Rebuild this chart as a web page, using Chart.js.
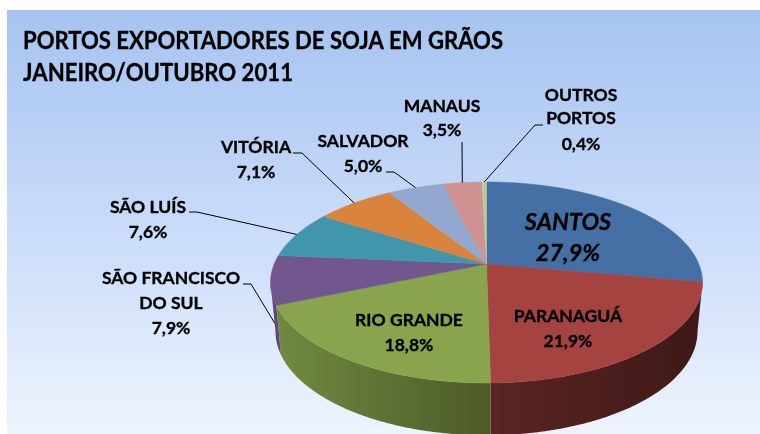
<!DOCTYPE html>
<html>
<head>
<meta charset="utf-8">
<style>
  html, body { margin: 0; padding: 0; background: #fff; }
  canvas { display: block; }
</style>
<script src="https://cdn.jsdelivr.net/npm/chart.js@4"></script>
</head>
<body>
<canvas id="portos" width="760" height="434"></canvas>
<script>
const categories = ["SANTOS", "PARANAGUÁ", "RIO GRANDE", "SÃO FRANCISCO DO SUL", "SÃO LUÍS", "VITÓRIA", "SALVADOR", "MANAUS", "OUTROS PORTOS"];
const shares = [27.9, 21.9, 18.8, 7.9, 7.6, 7.1, 5.0, 3.5, 0.4];
const titleLines = ["PORTOS EXPORTADORES DE SOJA EM GRÃOS", "JANEIRO/OUTUBRO 2011"];
const sliceColors = ["#4470a5", "#a54341", "#89a44d", "#71578e", "#4196ae", "#da833d", "#93a8ce", "#d09291", "#b8cc95"];
const sideLeft = ["#2c4a6e", "#5a2523", "#718a40", "#5f4878", "#2f6d7f", "#9c5d2b", "#6b7a96", "#967069", "#84936b"];
const sideRight = ["#2c4a6e", "#3e1917", "#4d5a29", "#5f4878", "#2f6d7f", "#9c5d2b", "#6b7a96", "#967069", "#84936b"];

// perspective of the disc, fitted on the picture
const view = { cx: 486.5, cy: 264, a: 212.3, b: 97.1, k: 0.184, depth: 48, shrink: 0.977, bottomB: 100.6 };

function project(angle, level) {
  const u = Math.cos(angle);
  const v = Math.sin(angle);
  const w = 1 - view.k * v;
  if (level) {
    return { x: view.cx + view.shrink * view.a * u / w, y: view.cy + view.depth + view.bottomB * v / w };
  }
  return { x: view.cx + view.a * u / w, y: view.cy + view.b * v / w };
}

function rimPoints(start, end, level) {
  const n = Math.max(2, Math.ceil((end - start) / 0.01));
  const pts = [];
  for (let i = 0; i <= n; i++) {
    pts.push(project(start + (end - start) * i / n, level));
  }
  return pts;
}

// label block: centre x, y of each line, font size, text lines, where the leader leaves it
const labelLayout = [
  { x: 568, ys: [222, 253], size: 23.5, italic: true, lines: ["SANTOS", "27,9%"] },
  { x: 568, ys: [316, 341], size: 17.5, lines: ["PARANAGUÁ", "21,9%"] },
  { x: 409, ys: [320, 345], size: 17.5, lines: ["RIO GRANDE", "18,8%"] },
  { x: 171, ys: [278, 303, 328], size: 17.5, lines: ["SÃO FRANCISCO", "DO SUL", "7,9%"], leader: [[243, 284], [251, 284]], onSide: true },
  { x: 148, ys: [207, 232], size: 17.5, lines: ["SÃO LUÍS", "7,6%"], leader: [[189, 212], [197, 212]] },
  { x: 256, ys: [147, 172], size: 17.5, lines: ["VITÓRIA", "7,1%"], leader: [[293, 153], [302, 153]] },
  { x: 363, ys: [141, 166], size: 17.5, lines: ["SALVADOR", "5,0%"], leader: [[386, 172], [394, 172]] },
  { x: 442, ys: [106, 130], size: 17.5, lines: ["MANAUS", "3,5%"], leader: [[462, 142]] },
  { x: 581, ys: [95, 118, 144], size: 17.5, lines: ["OUTROS", "PORTOS", "0,4%"], leader: [[543, 125], [535, 125]] }
];

// where a leader touches its slice: middle of the rim, or of the visible side wall
function leaderEnd(arc, onSide) {
  if (!onSide) return project((arc.startAngle + arc.endAngle) / 2, 0);
  const mid = (arc.startAngle + Math.PI - Math.asin(view.k)) / 2;
  const a = project(mid, 0);
  const b = project(mid, 1);
  return { x: a.x + (b.x - a.x) * 0.6, y: a.y + (b.y - a.y) * 0.6 };
}

const pie3d = {
  id: "pie3d",
  beforeDraw(chart) {
    const ctx = chart.ctx;
    const grad = ctx.createLinearGradient(0, 10, 0, 434);
    grad.addColorStop(0, "#a6c3f0");
    grad.addColorStop(0.5, "#c8dbf9");
    grad.addColorStop(1, "#eef4fe");
    ctx.fillStyle = "#ffffff";
    ctx.fillRect(0, 0, 760, 434);
    ctx.fillStyle = grad;
    ctx.fillRect(7, 10, 753, 424);
  },
  beforeDatasetDraw(chart, args) {
    const ctx = chart.ctx;
    const arcs = chart.getDatasetMeta(args.index).data;
    const lo = Math.asin(view.k);
    const hi = Math.PI - lo;

    // sides first, only the front of the disc shows
    arcs.forEach((arc, i) => {
      const from = Math.max(arc.startAngle, lo);
      const to = Math.min(arc.endAngle, hi);
      if (to <= from) return;
      const top = rimPoints(from, to, 0);
      const bottom = rimPoints(from, to, 1).reverse();
      const xs = top.map(p => p.x);
      const grad = ctx.createLinearGradient(Math.min(...xs), 0, Math.max(...xs), 0);
      grad.addColorStop(0, sideLeft[i]);
      grad.addColorStop(1, sideRight[i]);
      ctx.beginPath();
      top.concat(bottom).forEach((p, n) => n ? ctx.lineTo(p.x, p.y) : ctx.moveTo(p.x, p.y));
      ctx.closePath();
      ctx.fillStyle = grad;
      ctx.fill();
    });

    // top faces
    arcs.forEach(arc => {
      ctx.beginPath();
      ctx.moveTo(view.cx, view.cy);
      rimPoints(arc.startAngle, arc.endAngle, 0).forEach(p => ctx.lineTo(p.x, p.y));
      ctx.closePath();
      ctx.fillStyle = arc.options.backgroundColor;
      ctx.strokeStyle = arc.options.backgroundColor;
      ctx.lineWidth = 0.5;
      ctx.fill();
      ctx.stroke();
    });
    return false;
  },
  afterDatasetsDraw(chart) {
    const ctx = chart.ctx;
    const arcs = chart.getDatasetMeta(0).data;

    ctx.strokeStyle = "#000000";
    ctx.lineWidth = 1;
    labelLayout.forEach((label, i) => {
      if (!label.leader) return;
      const end = leaderEnd(arcs[i], label.onSide);
      ctx.beginPath();
      label.leader.forEach((p, n) => n ? ctx.lineTo(p[0], p[1]) : ctx.moveTo(p[0], p[1]));
      ctx.lineTo(end.x, end.y);
      ctx.stroke();
    });

    ctx.fillStyle = "#000000";
    ctx.strokeStyle = "#000000";
    ctx.lineWidth = 0.35;
    ctx.textAlign = "center";
    ctx.textBaseline = "middle";
    labelLayout.forEach(label => {
      ctx.font = (label.italic ? "italic " : "") + "bold " + label.size + "px Lato";
      label.lines.forEach((line, n) => {
        ctx.fillText(line, label.x, label.ys[n]);
        ctx.strokeText(line, label.x, label.ys[n]);
      });
    });

    ctx.textAlign = "left";
    ctx.font = "bold 24px Lato";
    ctx.fillText(titleLines[0], 23, 41, 480);
    ctx.strokeText(titleLines[0], 23, 41, 480);
    ctx.fillText(titleLines[1], 23, 73, 270);
    ctx.strokeText(titleLines[1], 23, 73, 270);
  }
};

new Chart(document.getElementById("portos"), {
  type: "pie",
  data: {
    labels: categories,
    datasets: [{
      data: shares,
      backgroundColor: sliceColors,
      borderWidth: 0
    }]
  },
  options: {
    responsive: false,
    animation: false,
    plugins: {
      legend: { display: false },
      tooltip: { enabled: false }
    }
  },
  plugins: [pie3d]
});
</script>
</body>
</html>
